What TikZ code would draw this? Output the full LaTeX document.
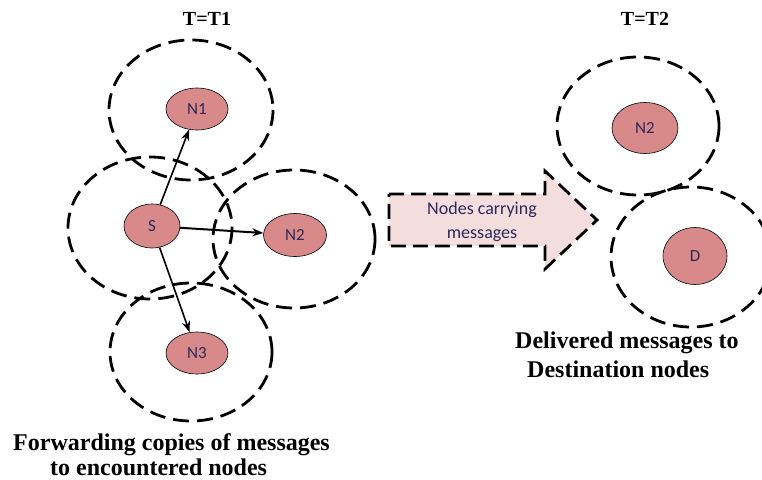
\documentclass[tikz,border=0pt]{standalone}
\usepackage{fontspec}
\setmainfont{Liberation Serif}
\newfontfamily\lblfont{Carlito}
\usetikzlibrary{arrows.meta,shapes.geometric}
\definecolor{nodefill}{RGB}{216,138,138}
\definecolor{arrowfill}{RGB}{243,221,221}
\definecolor{lbltext}{RGB}{45,40,90}
\tikzset{
  radiorange/.style={draw=black, line width=2.8pt, dash pattern=on 16pt off 8pt},
  host/.style={ellipse, draw=black, line width=0.6pt, fill=nodefill, inner sep=0pt,
               font=\lblfont\fontsize{17}{18}\selectfont, text=lbltext},
  link/.style={-{Stealth[length=11pt,width=8pt]}, line width=1.6pt},
  caption/.style={font=\bfseries\fontsize{24}{26}\selectfont, inner sep=0pt}
}
\begin{document}
\begin{tikzpicture}[x=1pt,y=-1pt]
\useasboundingbox (0,0) rectangle (762,479);

% radio ranges at time T1
\draw[radiorange] (191,110) ellipse [x radius=82, y radius=70];
\draw[radiorange] (150,228) ellipse [x radius=82, y radius=71];
\draw[radiorange] (294,239) ellipse [x radius=81, y radius=69];
\draw[radiorange] (191,352) ellipse [x radius=81, y radius=69];

% radio ranges at time T2
\draw[radiorange] (638,126) ellipse [x radius=81, y radius=69];
\draw[radiorange] (691,257) ellipse [x radius=80, y radius=70];

% hosts
\node[host, minimum width=62pt, minimum height=42pt] (n1) at (197,109) {N1};
\node[host, minimum width=56pt, minimum height=44pt] (s) at (152,226) {S};
\node[host, minimum width=63pt, minimum height=43pt] (n2) at (295,235) {N2};
\node[host, minimum width=62pt, minimum height=42pt] (n3) at (197,353) {N3};
\node[host, minimum width=66pt, minimum height=51pt] (n2b) at (645,128) {N2};
\node[host, minimum width=64pt, minimum height=57pt] (d) at (695,256) {D};

% forwarded copies
\draw[link] (s) -- (n1);
\draw[link, line width=2pt] (s) -- (n2);
\draw[link] (s) -- (n3);

% block arrow between the two time steps
\draw[radiorange, line width=2.8pt, dash pattern=on 15pt off 7pt, fill=arrowfill]
  (389,194) -- (545,194) -- (545,171) -- (597,220) -- (545,269) -- (545,246) -- (389,246) -- cycle;
\node[font=\lblfont\fontsize{18}{24}\selectfont, text=lbltext, align=center] (lbl) at (482,222)
  {Nodes carrying\\messages};

% captions
\node[caption, font=\bfseries\fontsize{20}{24}\selectfont] (t1) at (207,19) {T=T1};
\node[caption, font=\bfseries\fontsize{20}{24}\selectfont] (t2) at (645,19) {T=T2};
\node[caption, anchor=base west] (c1a) at (13,450) {Forwarding copies of messages};
\node[caption, anchor=base west] (c1b) at (50,475) {to encountered nodes};
\node[caption, anchor=base west] (c2a) at (515,348) {Delivered messages to};
\node[caption, anchor=base west] (c2b) at (527,377) {Destination nodes};
\end{tikzpicture}
\end{document}
